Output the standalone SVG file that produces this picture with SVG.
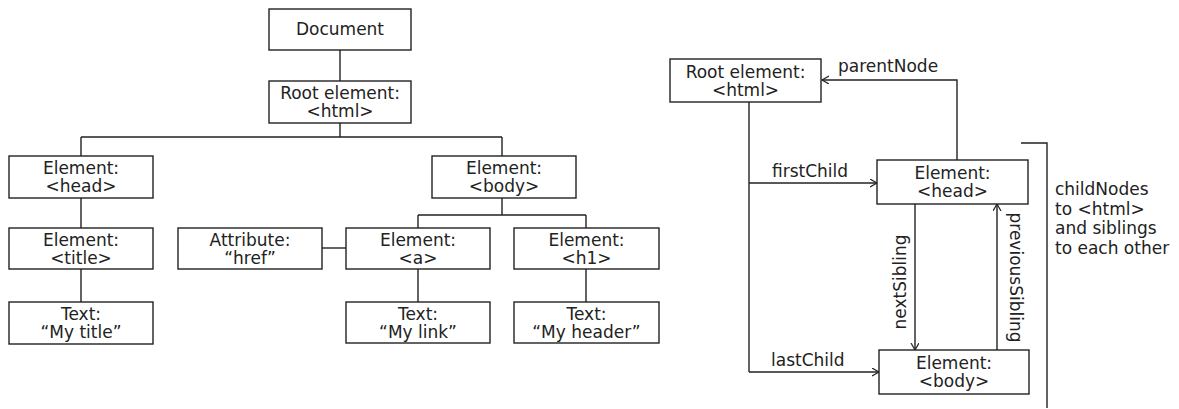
<svg xmlns="http://www.w3.org/2000/svg" width="1179" height="409" viewBox="0 0 1179 409">
<defs>
<style>
.box{fill:#fff;stroke:#222;stroke-width:1.4}
.ln{fill:none;stroke:#222;stroke-width:1.4}
text{font-family:"DejaVu Sans",Verdana,sans-serif;font-size:17px;fill:#222}
.c{text-anchor:middle}
</style>
<marker id="arr" markerUnits="userSpaceOnUse" markerWidth="10" markerHeight="10" refX="7" refY="4" orient="auto">
<path d="M0,0 L7,4 L0,8" fill="none" stroke="#222" stroke-width="1.2"/>
</marker>
</defs>
<rect width="1179" height="409" fill="#fff"/>

<g id="connectors">
<path class="ln" d="M340,50 V81"/>
<path class="ln" d="M340,123 V137 M81,137 H502 M81,137 V156 M502,137 V156"/>
<path class="ln" d="M81,198 V228 M81,269 V302"/>
<path class="ln" d="M502,198 V215 M418,215 H586 M418,215 V228 M586,215 V228"/>
<path class="ln" d="M322,248 H346"/>
<path class="ln" d="M418,269 V302 M586,269 V302"/>
<path class="ln" d="M749,102 V372"/>
<path class="ln" d="M749,183 H877" marker-end="url(#arr)"/>
<path class="ln" d="M749,372 H879" marker-end="url(#arr)"/>
<path class="ln" d="M957,160 V80 H822" marker-end="url(#arr)"/>
<path class="ln" d="M915,204 V350" marker-end="url(#arr)"/>
<path class="ln" d="M997,350 V204" marker-end="url(#arr)"/>
<path class="ln" d="M1021,143 H1047 V408"/>
</g>

<g id="n-document"><rect class="box" x="269" y="9" width="142" height="41"/><text class="c" x="340" y="35">Document</text></g>
<g id="n-root"><rect class="box" x="269" y="81" width="142" height="42"/><text class="c" x="340" y="99">Root element:</text><text class="c" x="340" y="117">&lt;html&gt;</text></g>
<g id="n-head"><rect class="box" x="9" y="156" width="144" height="42"/><text class="c" x="81" y="174">Element:</text><text class="c" x="81" y="192">&lt;head&gt;</text></g>
<g id="n-body"><rect class="box" x="432" y="156" width="144" height="42"/><text class="c" x="504" y="174">Element:</text><text class="c" x="504" y="192">&lt;body&gt;</text></g>
<g id="n-title"><rect class="box" x="9" y="228" width="144" height="41"/><text class="c" x="81" y="246">Element:</text><text class="c" x="81" y="264">&lt;title&gt;</text></g>
<g id="n-attr"><rect class="box" x="178" y="228" width="144" height="41"/><text class="c" x="250" y="246">Attribute:</text><text class="c" x="250" y="264">“href”</text></g>
<g id="n-a"><rect class="box" x="346" y="228" width="144" height="41"/><text class="c" x="418" y="246">Element:</text><text class="c" x="418" y="264">&lt;a&gt;</text></g>
<g id="n-h1"><rect class="box" x="514" y="228" width="145" height="41"/><text class="c" x="586.5" y="246">Element:</text><text class="c" x="586.5" y="264">&lt;h1&gt;</text></g>
<g id="n-text-title"><rect class="box" x="9" y="302" width="144" height="42"/><text class="c" x="81" y="320">Text:</text><text class="c" x="81" y="338">“My title”</text></g>
<g id="n-text-link"><rect class="box" x="346" y="302" width="144" height="41"/><text class="c" x="418" y="320">Text:</text><text class="c" x="418" y="338">“My link”</text></g>
<g id="n-text-header"><rect class="box" x="514" y="302" width="145" height="41"/><text class="c" x="586.5" y="320">Text:</text><text class="c" x="586.5" y="338">“My header”</text></g>

<g id="r-root"><rect class="box" x="670" y="59" width="151" height="43"/><text class="c" x="745.5" y="78">Root element:</text><text class="c" x="745.5" y="96">&lt;html&gt;</text></g>
<g id="r-head"><rect class="box" x="877" y="160" width="151" height="44"/><text class="c" x="952.5" y="179">Element:</text><text class="c" x="952.5" y="197">&lt;head&gt;</text></g>
<g id="r-body"><rect class="box" x="879" y="350" width="150" height="44"/><text class="c" x="954" y="369">Element:</text><text class="c" x="954" y="387">&lt;body&gt;</text></g>

<g id="labels">
<text x="838" y="72">parentNode</text>
<text x="772" y="177">firstChild</text>
<text x="771" y="366">lastChild</text>
<text class="c" transform="translate(906,282) rotate(-90)">nextSibling</text>
<text class="c" transform="translate(1010,277.5) rotate(90)">previousSibling</text>
<text x="1055" y="195">childNodes</text>
<text x="1055" y="214.5">to &lt;html&gt;</text>
<text x="1055" y="234">and siblings</text>
<text x="1055" y="253.5">to each other</text>
</g>
</svg>
